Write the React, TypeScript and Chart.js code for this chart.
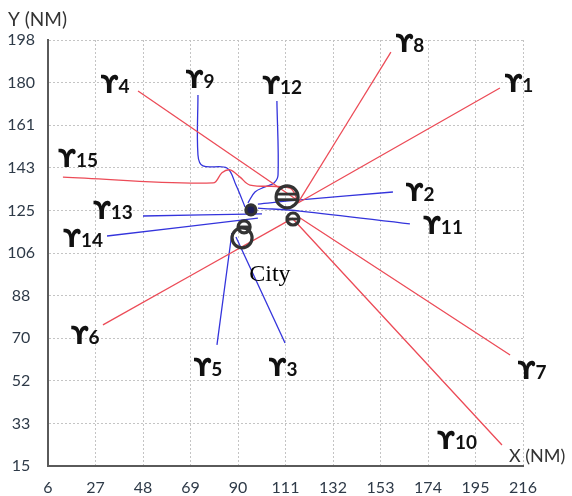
import React, { useEffect, useRef } from 'react';
import { Chart, registerables } from 'chart.js';

Chart.register(...registerables);

// Axis ticks
const xTicks = [6, 27, 48, 69, 90, 111, 132, 153, 174, 195, 216];
const yTickLabels = ['15', '33', '52', '70', '88', '106', '125', '143', '161', '180', '198'];
const yMin = 15;
const yMax = 198;

// Routes (x, y in NM) — red
const route1 = [[116.5, 128.0], [205.8, 177.4]];
const route8 = [[116.5, 128.0], [157.6, 192.8]];
const route4 = [[45.8, 176.1], [116.1, 129.3]];
const route15 = [[12.6, 139.1], [79.0, 136.6], [82.9, 141.0], [86.5, 142.2], [90.9, 139.1], [95.3, 135.7], [113.0, 134.4], [116.1, 129.7]];
const route6 = [[30.3, 75.6], [114.3, 121.5]];
const route7 = [[116.1, 122.4], [210.3, 62.7]];
const route10 = [[114.3, 121.1], [206.7, 24.0]];

// Routes — blue
const route2 = [[98.8, 127.5], [117.4, 129.3], [158.5, 132.7]];
const route11 = [[98.8, 125.8], [117.4, 124.5], [166.0, 119.0]];
const route13 = [[48.0, 122.4], [100.6, 123.3]];
const route14 = [[32.1, 113.8], [98.8, 121.5]];
const route9 = [[72.3, 174.4], [72.3, 148.6], [74.5, 143.9], [85.1, 143.0], [89.1, 135.7], [93.1, 126.3]];
const route12 = [[107.2, 171.8], [107.7, 140.0], [105.9, 136.6], [101.9, 134.9], [97.5, 132.7], [94.4, 128.0]];
const route5 = [[80.7, 67.0], [87.3, 115.1]];
const route3 = [[110.8, 67.8], [89.1, 113.4]];

const redRoutes = [route1, route8, route4, route15, route6, route7, route10];
const blueRoutes = [route2, route11, route13, route14, route9, route12, route5, route3];

// Hub markers
const markerX = [111.7, 114.3, 95.7, 92.7, 91.8];
const markerY = [130.6, 121.1, 125.0, 117.7, 113.0];
const markerRadius = [11, 6, 5, 6, 10];
const markerBars = [2, 1, 0, 1, 0];
const markerFill = ['rgba(0,0,0,0)', 'rgba(0,0,0,0)', '#1d1d55', 'rgba(0,0,0,0)', 'rgba(0,0,0,0)'];

// Route labels
const labelNums = ['1', '2', '3', '4', '5', '6', '7', '8', '9', '10', '11', '12', '13', '14', '15'];
const labelX = [214.2, 170.5, 109.9, 35.6, 76.7, 22.4, 220.0, 166.0, 73.2, 186.8, 180.6, 109.5, 34.7, 21.5, 19.3];
const labelY = [179.5, 132.7, 57.5, 179.1, 57.5, 71.3, 56.2, 196.7, 181.2, 26.2, 118.5, 178.7, 125.0, 113.0, 147.3];

const cityLabel = { text: 'City', x: 104.1, y: 97.0 };

const FONT = "Lato, 'DejaVu Sans', sans-serif";
const UPS_FONT = "bold 24px 'DejaVu Sans', sans-serif";
const NUM_FONT = `bold 19px ${FONT}`;

const overlay = {
  id: 'overlay',
  afterDraw(chart: any) {
    const { ctx } = chart;
    const xs = chart.scales.x;
    const ys = chart.scales.y;
    ctx.save();
    // bars inside rings
    ctx.strokeStyle = '#333';
    ctx.lineWidth = 2.8;
    markerX.forEach((mx, i) => {
      const n = markerBars[i];
      if (!n) return;
      const px = xs.getPixelForValue(mx);
      const py = ys.getPixelForValue(markerY[i]);
      const r = markerRadius[i] - 1;
      const offs = n === 2 ? [-2.8, 2.8] : [0];
      offs.forEach((o) => {
        const hw = Math.sqrt(Math.max(0, r * r - o * o));
        ctx.beginPath();
        ctx.moveTo(px - hw, py + o);
        ctx.lineTo(px + hw, py + o);
        ctx.stroke();
      });
    });
    // route labels
    ctx.fillStyle = '#111';
    ctx.textBaseline = 'alphabetic';
    ctx.textAlign = 'left';
    labelNums.forEach((num, i) => {
      const cx = xs.getPixelForValue(labelX[i]);
      const cy = ys.getPixelForValue(labelY[i]);
      ctx.font = UPS_FONT;
      const wu = ctx.measureText('ϒ').width;
      ctx.font = NUM_FONT;
      const wd = ctx.measureText(num).width;
      const start = cx - (wu + wd) / 2;
      ctx.font = UPS_FONT;
      ctx.fillText('ϒ', start, cy + 9);
      ctx.font = NUM_FONT;
      ctx.fillText(num, start + wu, cy + 9);
    });
    // City
    ctx.font = "24px 'Liberation Serif', 'DejaVu Serif', serif";
    ctx.textAlign = 'center';
    ctx.textBaseline = 'middle';
    ctx.fillStyle = '#000';
    ctx.fillText(cityLabel.text, xs.getPixelForValue(cityLabel.x), ys.getPixelForValue(cityLabel.y));
    // axis titles
    ctx.fillStyle = '#333';
    ctx.textAlign = 'left';
    ctx.textBaseline = 'alphabetic';
    ctx.font = `19px ${FONT}`;
    ctx.fillText('Y (NM)', 8, 26);
    ctx.font = `18px ${FONT}`;
    ctx.fillText('X (NM)', 509, 462);
    ctx.restore();
  },
};

function toPoints(r: number[][]) {
  return r.map(([x, y]) => ({ x, y }));
}

export default function App() {
  const ref = useRef<HTMLCanvasElement>(null);
  useEffect(() => {
    if (!ref.current) return;
    const lineSets: any[] = [];
    redRoutes.forEach((r) =>
      lineSets.push({
        data: toPoints(r),
        showLine: true,
        borderColor: '#ec4b57',
        borderWidth: 1.3,
        pointRadius: 0,
        tension: 0.35,
        order: 2,
      })
    );
    blueRoutes.forEach((r) =>
      lineSets.push({
        data: toPoints(r),
        showLine: true,
        borderColor: '#3434dc',
        borderWidth: 1.3,
        pointRadius: 0,
        tension: 0.35,
        order: 2,
      })
    );
    const markers = {
      data: markerX.map((x, i) => ({ x, y: markerY[i] })),
      showLine: false,
      pointRadius: markerRadius,
      pointBorderWidth: 3.2,
      pointBorderColor: '#333',
      pointBackgroundColor: markerFill,
      order: 0,
    };
    const chart = new Chart(ref.current, {
      type: 'scatter',
      data: { datasets: [markers, ...lineSets] },
      options: {
        responsive: false,
        animation: false,
        layout: { padding: { top: 40, right: 49, left: 0, bottom: 0 } },
        plugins: { legend: { display: false }, tooltip: { enabled: false } },
        scales: {
          x: {
            type: 'linear',
            min: xTicks[0],
            max: xTicks[xTicks.length - 1],
            afterBuildTicks: (scale: any) => {
              scale.ticks = xTicks.map((v) => ({ value: v }));
            },
            afterFit: (scale: any) => {
              scale.height = 30;
            },
            ticks: {
              padding: 12,
              color: '#2e3a48',
              font: { family: FONT, size: 16 },
              maxRotation: 0,
              autoSkip: false,
              callback: (v: any, i: number) => String(xTicks[i]),
            },
            grid: { color: '#c4c4c4', drawTicks: false, lineWidth: 1 },
            border: { display: true, color: '#5a5a5a', width: 2, dash: [2, 2] },
          },
          y: {
            type: 'linear',
            min: yMin,
            max: yMax,
            afterBuildTicks: (scale: any) => {
              scale.ticks = yTickLabels.map((_, i) => ({ value: yMin + (i * (yMax - yMin)) / (yTickLabels.length - 1) }));
            },
            afterFit: (scale: any) => {
              scale.width = 48;
            },
            ticks: {
              padding: 13,
              crossAlign: 'center',
              color: '#2e3a48',
              font: { family: FONT, size: 16 },
              autoSkip: false,
              callback: (v: any, i: number) => yTickLabels[i],
            },
            grid: { color: '#c4c4c4', drawTicks: false, lineWidth: 1 },
            border: { display: true, color: '#5a5a5a', width: 2, dash: [2, 2] },
          },
        },
      } as any,
      plugins: [overlay],
    } as any);
    return () => chart.destroy();
  }, []);
  return (
    <div style={{ position: 'absolute', left: 0, top: 0, width: 572, height: 496, background: '#fff' }}>
      <canvas ref={ref} width={572} height={496} style={{ display: 'block' }} />
    </div>
  );
}
